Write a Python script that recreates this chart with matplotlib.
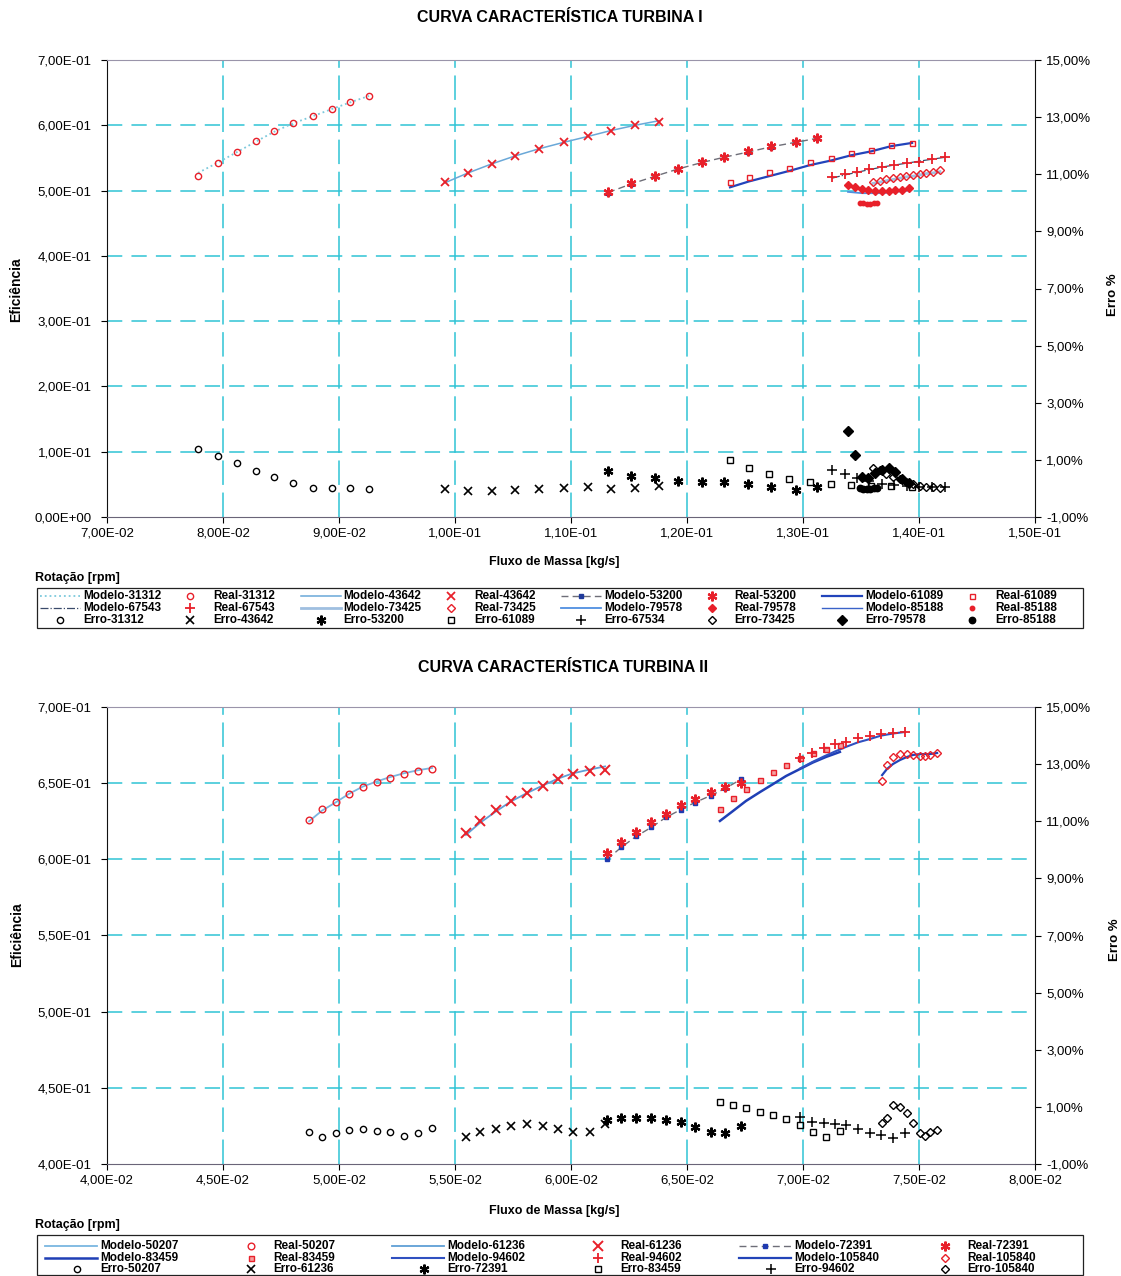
import matplotlib
matplotlib.use("Agg")
import matplotlib.pyplot as plt
from matplotlib import font_manager
from matplotlib.lines import Line2D
from matplotlib.patches import Rectangle
from matplotlib.ticker import FixedLocator, FuncFormatter

# ---------------- Turbina I ----------------
q31312 = [0.07784, 0.07957, 0.08121, 0.08284, 0.08440, 0.08603, 0.08776, 0.08940, 0.09095, 0.09259]
mod31312 = [0.527, 0.543, 0.559, 0.575, 0.590, 0.603, 0.614, 0.625, 0.635, 0.645]
real31312 = [0.522, 0.542, 0.559, 0.576, 0.591, 0.603, 0.614, 0.625, 0.636, 0.645]
err31312 = [1.381, 1.136, 0.891, 0.611, 0.400, 0.190, 0.015, 0.015, 0.015, -0.020]

q43642 = [0.09914, 0.10112, 0.10319, 0.10517, 0.10724, 0.10940, 0.11147, 0.11345, 0.11552, 0.11759]
mod43642 = [0.512, 0.527, 0.541, 0.553, 0.564, 0.574, 0.583, 0.592, 0.600, 0.607]
real43642 = [0.513, 0.527, 0.541, 0.553, 0.564, 0.574, 0.583, 0.591, 0.600, 0.605]
err43642 = [-0.020, -0.090, -0.090, -0.055, -0.020, 0.015, 0.050, -0.020, 0.015, 0.085]

q53200 = [0.11319, 0.11517, 0.11724, 0.11922, 0.12129, 0.12319, 0.12526, 0.12724, 0.12940, 0.13121]
mod53200 = [0.497, 0.510, 0.522, 0.533, 0.543, 0.551, 0.559, 0.567, 0.574, 0.580]
real53200 = [0.498, 0.511, 0.522, 0.533, 0.544, 0.551, 0.560, 0.568, 0.574, 0.580]
err53200 = [0.611, 0.435, 0.365, 0.260, 0.225, 0.225, 0.155, 0.050, -0.055, 0.050]

q61089 = [0.12371, 0.12534, 0.12707, 0.12879, 0.13060, 0.13241, 0.13414, 0.13586, 0.13759, 0.13940]
mod61089 = [0.505, 0.514, 0.522, 0.530, 0.539, 0.546, 0.554, 0.560, 0.568, 0.573]
real61089 = [0.513, 0.521, 0.528, 0.534, 0.544, 0.550, 0.557, 0.562, 0.570, 0.573]
err61089 = [0.996, 0.716, 0.505, 0.330, 0.225, 0.155, 0.120, 0.085, 0.085, 0.050]

q67543 = [0.13250, 0.13362, 0.13466, 0.13569, 0.13681, 0.13784, 0.13897, 0.14000, 0.14112, 0.14224]
mod67543 = [0.519, 0.524, 0.528, 0.532, 0.536, 0.539, 0.542, 0.545, 0.548, 0.551]
real67543 = [0.521, 0.525, 0.528, 0.533, 0.536, 0.539, 0.542, 0.544, 0.548, 0.551]
err67534 = [0.645, 0.505, 0.365, 0.260, 0.155, 0.120, 0.085, 0.050, 0.050, 0.050]

q73425 = [0.13603, 0.13664, 0.13716, 0.13776, 0.13836, 0.13888, 0.13948, 0.14009, 0.14060, 0.14121, 0.14181]
mod73425 = [0.511, 0.513, 0.515, 0.517, 0.519, 0.521, 0.522, 0.524, 0.526, 0.527, 0.529]
real73425 = [0.513, 0.515, 0.517, 0.519, 0.521, 0.522, 0.524, 0.525, 0.527, 0.528, 0.531]
err73425 = [0.715, 0.645, 0.505, 0.400, 0.330, 0.225, 0.155, 0.085, 0.050, 0.050, 0.015]

q79578 = [0.13388, 0.13448, 0.13509, 0.13560, 0.13621, 0.13681, 0.13741, 0.13793, 0.13853, 0.13914]
mod79578 = [0.498, 0.497, 0.496, 0.496, 0.496, 0.496, 0.497, 0.498, 0.499, 0.500]
real79578 = [0.508, 0.505, 0.502, 0.501, 0.499, 0.499, 0.499, 0.501, 0.501, 0.504]
err79578 = [2.011, 1.171, 0.400, 0.365, 0.540, 0.645, 0.716, 0.575, 0.330, 0.190]

q85188 = [0.13491, 0.13517, 0.13552, 0.13578, 0.13612, 0.13638]
mod85188 = [0.480, 0.480, 0.479, 0.479, 0.480, 0.480]
real85188 = [0.481, 0.481, 0.479, 0.479, 0.481, 0.481]
err85188 = [0.015, -0.020, -0.020, -0.020, 0.015, 0.015]

# ---------------- Turbina II ----------------
q50207 = [0.04871, 0.04927, 0.04987, 0.05043, 0.05103, 0.05164, 0.05220, 0.05280, 0.05341, 0.05401]
mod50207 = [0.6250, 0.6320, 0.6375, 0.6430, 0.6478, 0.6512, 0.6540, 0.6565, 0.6585, 0.6600]
real50207 = [0.6258, 0.6330, 0.6376, 0.6429, 0.6475, 0.6508, 0.6534, 0.6560, 0.6580, 0.6593]
err50207 = [0.120, -0.055, 0.085, 0.190, 0.225, 0.155, 0.120, -0.020, 0.085, 0.260]

q61236 = [0.05547, 0.05608, 0.05677, 0.05741, 0.05810, 0.05879, 0.05944, 0.06009, 0.06082, 0.06147]
mod61236 = [0.6160, 0.6240, 0.6315, 0.6380, 0.6435, 0.6485, 0.6530, 0.6565, 0.6590, 0.6610]
real61236 = [0.6173, 0.6252, 0.6324, 0.6383, 0.6435, 0.6481, 0.6527, 0.6560, 0.6580, 0.6586]
err61236 = [-0.055, 0.120, 0.225, 0.330, 0.400, 0.330, 0.225, 0.120, 0.120, 0.400]

q72391 = [0.06155, 0.06216, 0.06280, 0.06345, 0.06409, 0.06474, 0.06534, 0.06603, 0.06664, 0.06733]
mod72391 = [0.5999, 0.6078, 0.6150, 0.6209, 0.6275, 0.6327, 0.6373, 0.6419, 0.6465, 0.6525]
real72391 = [0.6042, 0.6114, 0.6180, 0.6245, 0.6298, 0.6357, 0.6396, 0.6442, 0.6475, 0.6501]
err72391 = [0.540, 0.610, 0.610, 0.610, 0.540, 0.470, 0.295, 0.120, 0.085, 0.330]

q83459 = [0.06642, 0.06698, 0.06754, 0.06815, 0.06871, 0.06927, 0.06987, 0.07043, 0.07099, 0.07159]
mod83459 = [0.6252, 0.6317, 0.6383, 0.6442, 0.6494, 0.6547, 0.6593, 0.6636, 0.6672, 0.6705]
real83459 = [0.6330, 0.6403, 0.6462, 0.6521, 0.6573, 0.6619, 0.6665, 0.6698, 0.6724, 0.6751]
err83459 = [1.170, 1.066, 0.960, 0.820, 0.715, 0.575, 0.365, 0.120, -0.055, 0.155]

q94602 = [0.06987, 0.07039, 0.07091, 0.07138, 0.07185, 0.07237, 0.07289, 0.07336, 0.07388, 0.07440]
mod94602 = [0.6596, 0.6638, 0.6676, 0.6708, 0.6738, 0.6768, 0.6790, 0.6812, 0.6826, 0.6836]
real94602 = [0.6665, 0.6698, 0.6731, 0.6757, 0.6770, 0.6796, 0.6809, 0.6822, 0.6829, 0.6836]
err94602 = [0.645, 0.470, 0.435, 0.400, 0.365, 0.225, 0.085, 0.015, -0.090, 0.085]

q105840 = [0.07341, 0.07362, 0.07388, 0.07418, 0.07448, 0.07474, 0.07504, 0.07526, 0.07547, 0.07578]
mod105840 = [0.6553, 0.6593, 0.6626, 0.6652, 0.6672, 0.6685, 0.6691, 0.6691, 0.6691, 0.6698]
real105840 = [0.6514, 0.6619, 0.6672, 0.6691, 0.6691, 0.6685, 0.6678, 0.6678, 0.6685, 0.6698]
err105840 = [0.435, 0.610, 1.066, 0.996, 0.786, 0.435, 0.085, -0.020, 0.120, 0.190]

# ---------------- fontes ----------------
nomes = {f.name for f in font_manager.fontManager.ttflist}
FONTE = "Liberation Sans" if "Liberation Sans" in nomes else "DejaVu Sans"
plt.rcParams["font.family"] = [FONTE, "DejaVu Sans"]

W, H = 1121, 1276
GRID = "#2fc3d5"
STAR = (6, 2, 0)  # asterisco de 6 pontas (x com barra vertical)


def px(x, y):
    return x / W, 1 - y / H


def fmt_e(v, pos=None):
    return f"{v:.2E}".replace(".", ",")


def fmt_pct(v, pos=None):
    return f"{v:.2f}%".replace(".", ",")


def eixos(fig, top, bottom, xticks, yticks):
    ax = fig.add_axes([107 / W, 1 - bottom / H, 928 / W, (bottom - top) / H])
    ax.set_xlim(xticks[0], xticks[-1])
    ax.set_ylim(yticks[0], yticks[-1])
    ax.xaxis.set_major_locator(FixedLocator(xticks))
    ax.yaxis.set_major_locator(FixedLocator(yticks))
    ax.xaxis.set_major_formatter(FuncFormatter(fmt_e))
    ax.yaxis.set_major_formatter(FuncFormatter(fmt_e))
    ax.tick_params(labelsize=9.5, length=4, width=0.8)
    ax.tick_params(axis="y", pad=7)
    for xv in xticks[1:-1]:
        ax.axvline(xv, color=GRID, lw=1.1, dashes=(16, 5), zorder=0)
    for yv in yticks[1:-1]:
        ax.axhline(yv, color=GRID, lw=1.1, dashes=(10, 6), zorder=0)
    ax.spines["left"].set_color("#111111")
    ax.spines["bottom"].set_color("#6a6478")
    ax.spines["top"].set_color("#9a94aa")
    ax.spines["top"].set_linewidth(0.8)
    ax.spines["right"].set_visible(False)

    ax2 = ax.twinx()
    ax2.set_ylim(-1, 15)
    ax2.yaxis.set_major_locator(FixedLocator([-1, 1, 3, 5, 7, 9, 11, 13, 15]))
    ax2.yaxis.set_major_formatter(FuncFormatter(fmt_pct))
    ax2.tick_params(labelsize=9.5, length=4, width=0.8, pad=4)
    ax2.spines["right"].set_color("#111111")
    for s in ("left", "top", "bottom"):
        ax2.spines[s].set_visible(False)
    return ax, ax2


def modelo(ax, q, y, label, **kw):
    return ax.plot(q, y, label=label, zorder=2, **kw)[0]


def real(ax, q, y, label, **kw):
    kw.setdefault("color", "#e8202a")
    return ax.plot(q, y, ls="none", label=label, zorder=3, **kw)[0]


def erro(ax, q, y, label, **kw):
    kw.setdefault("color", "black")
    return ax.plot(q, y, ls="none", label=label, zorder=3, **kw)[0]


def copia(fig, h, xs, ys, sem_linha=False, sem_marca=False):
    ln = Line2D([0], [0])
    ln.update_from(h)
    if sem_linha:
        ln.set_linestyle("None")
    if sem_marca:
        ln.set_marker("None")
    ln.set_data([x / W for x in xs], [1 - y / H for y in ys])
    ln.set_transform(fig.transFigure)
    ln.set_clip_path(None)
    ln.set_clip_on(False)
    fig.add_artist(ln)


def legenda(fig, linhas, top, x_txt0, passo, linhas_y, largura_linha):
    # caixa com colunas de largura fixa, como a legenda do Excel
    x0, y0 = px(37, top + 40)
    fig.add_artist(Rectangle((x0, y0), 1046 / W, 40 / H, transform=fig.transFigure,
                             fill=False, edgecolor="#222222", lw=0.9))
    fig.text(*px(35, top - 4), "Rotação [rpm]", fontsize=9, fontweight="bold",
             va="bottom", ha="left")
    for r, linha in enumerate(linhas):
        yy = linhas_y[r]
        for c, h in enumerate(linha):
            xt = x_txt0 + passo * c
            tem_linha = h.get_linestyle() not in ("None", "none", "", " ")
            tem_marca = h.get_marker() not in (None, "None", "none", "", " ")
            if tem_linha:
                copia(fig, h, [xt - 3 - largura_linha, xt - 3], [yy, yy], sem_marca=True)
            if tem_marca:
                cx = xt - 3 - largura_linha / 2 if tem_linha else xt - 23
                copia(fig, h, [cx], [yy], sem_linha=True)
            fig.text(xt / W, 1 - yy / H, h.get_label(), fontsize=8.5, fontweight="bold",
                     va="center", ha="left")


fig = plt.figure(figsize=(W / 100, H / 100), dpi=100)

# ======== Turbina I ========
ax, ax2 = eixos(fig, 60, 517,
                [0.07, 0.08, 0.09, 0.10, 0.11, 0.12, 0.13, 0.14, 0.15],
                [0.0, 0.1, 0.2, 0.3, 0.4, 0.5, 0.6, 0.7])

m1 = modelo(ax, q31312, mod31312, "Modelo-31312", color="#7cc9dc", lw=1.3, ls=":")
m2 = modelo(ax, q43642, mod43642, "Modelo-43642", color="#6aa8d8", lw=1.1)
m3 = modelo(ax, q53200, mod53200, "Modelo-53200", color="#6e6e78", lw=1.0, dashes=(5, 3),
            marker="s", ms=3, mfc="#1f3a9a", mec="#1f3a9a")
m4 = modelo(ax, q61089, mod61089, "Modelo-61089", color="#2244bb", lw=1.6)
m5 = modelo(ax, q67543, mod67543, "Modelo-67543", color="#3a4a6a", lw=0.9, ls="-.")
m6 = modelo(ax, q73425, mod73425, "Modelo-73425", color="#9fbfe0", lw=2.0)
m7 = modelo(ax, q79578, mod79578, "Modelo-79578", color="#4f8fe0", lw=1.3)
m8 = modelo(ax, q85188, mod85188, "Modelo-85188", color="#3a62c8", lw=1.0)

r1 = real(ax, q31312, real31312, "Real-31312", marker="o", ms=4.5, mfc="none", mew=1.0)
r2 = real(ax, q43642, real43642, "Real-43642", marker="x", ms=6, mew=1.3)
r3 = real(ax, q53200, real53200, "Real-53200", marker=STAR, ms=7, mew=1.6)
r4 = real(ax, q61089, real61089, "Real-61089", marker="s", ms=3.6, mfc="none", mew=1.0)
r5 = real(ax, q67543, real67543, "Real-67543", marker="+", ms=7, mew=1.3)
r6 = real(ax, q73425, real73425, "Real-73425", marker="D", ms=4.2, mfc="none", mew=1.0)
r7 = real(ax, q79578, real79578, "Real-79578", marker="D", ms=4.2)
r8 = real(ax, q85188, real85188, "Real-85188", marker="o", ms=3.2)

e1 = erro(ax2, q31312, err31312, "Erro-31312", marker="o", ms=4.5, mfc="none", mew=1.0)
e2 = erro(ax2, q43642, err43642, "Erro-43642", marker="x", ms=5.5, mew=1.2)
e3 = erro(ax2, q53200, err53200, "Erro-53200", marker=STAR, ms=7, mew=1.6)
e4 = erro(ax2, q61089, err61089, "Erro-61089", marker="s", ms=4.5, mfc="none", mew=1.0)
e5 = erro(ax2, q67543, err67534, "Erro-67534", marker="+", ms=6.5, mew=1.1)
e6 = erro(ax2, q73425, err73425, "Erro-73425", marker="D", ms=4.2, mfc="none", mew=1.0)
e7 = erro(ax2, q79578, err79578, "Erro-79578", marker="D", ms=4.6)
e8 = erro(ax2, q85188, err85188, "Erro-85188", marker="o", ms=4.6)

fig.text(*px(560, 18), "CURVA CARACTERÍSTICA TURBINA I", fontsize=11.5, fontweight="bold",
         ha="center", va="center")
fig.text(*px(554, 562), "Fluxo de Massa [kg/s]", fontsize=9, fontweight="bold",
         ha="center", va="center")
fig.text(*px(16, 290), "Eficiência", fontsize=10, fontweight="bold", rotation=90,
         ha="center", va="center")
fig.text(*px(1113, 295), "Erro %", fontsize=9.5, fontweight="bold", rotation=90,
         ha="center", va="center")

legenda(fig, [[m1, r1, m2, r2, m3, r3, m4, r4],
              [m5, r5, m6, r6, m7, r7, m8, r8],
              [e1, e2, e3, e4, e5, e6, e7, e8]],
        588, 83, 130.3, [596, 608, 620], 40)

# ======== Turbina II ========
bx, bx2 = eixos(fig, 707, 1164,
                [0.040, 0.045, 0.050, 0.055, 0.060, 0.065, 0.070, 0.075, 0.080],
                [0.40, 0.45, 0.50, 0.55, 0.60, 0.65, 0.70])

n1 = modelo(bx, q50207, mod50207, "Modelo-50207", color="#7ab6e0", lw=1.3)
n2 = modelo(bx, q61236, mod61236, "Modelo-61236", color="#5f9fd6", lw=1.3)
n3 = modelo(bx, q72391, mod72391, "Modelo-72391", color="#6e6e78", lw=1.0, dashes=(5, 3),
            marker="s", ms=3.5, mfc="#1f3ab0", mec="#1f3ab0")
n4 = modelo(bx, q83459, mod83459, "Modelo-83459", color="#1f3fb5", lw=1.8)
n5 = modelo(bx, q94602, mod94602, "Modelo-94602", color="#2f50c0", lw=1.5)
n6 = modelo(bx, q105840, mod105840, "Modelo-105840", color="#2244b8", lw=1.6)

s1 = real(bx, q50207, real50207, "Real-50207", marker="o", ms=4.8, mfc="none", mew=1.0)
s2 = real(bx, q61236, real61236, "Real-61236", marker="x", ms=6.5, mew=1.4)
s3 = real(bx, q72391, real72391, "Real-72391", marker=STAR, ms=7, mew=1.6)
s4 = real(bx, q83459, real83459, "Real-83459", marker="s", ms=3.6, mfc="#f4a0a0", mew=1.0)
s5 = real(bx, q94602, real94602, "Real-94602", marker="+", ms=7, mew=1.3)
s6 = real(bx, q105840, real105840, "Real-105840", marker="D", ms=4.4, mfc="none", mew=1.0)

f1 = erro(bx2, q50207, err50207, "Erro-50207", marker="o", ms=4.5, mfc="none", mew=1.0)
f2 = erro(bx2, q61236, err61236, "Erro-61236", marker="x", ms=5.5, mew=1.2)
f3 = erro(bx2, q72391, err72391, "Erro-72391", marker=STAR, ms=7, mew=1.6)
f4 = erro(bx2, q83459, err83459, "Erro-83459", marker="s", ms=4.5, mfc="none", mew=1.0)
f5 = erro(bx2, q94602, err94602, "Erro-94602", marker="+", ms=6.5, mew=1.1)
f6 = erro(bx2, q105840, err105840, "Erro-105840", marker="D", ms=4.4, mfc="none", mew=1.0)

fig.text(*px(563, 667), "CURVA CARACTERÍSTICA TURBINA II", fontsize=11.5, fontweight="bold",
         ha="center", va="center")
fig.text(*px(554, 1211), "Fluxo de Massa [kg/s]", fontsize=9, fontweight="bold",
         ha="center", va="center")
fig.text(*px(17, 935), "Eficiência", fontsize=10, fontweight="bold", rotation=90,
         ha="center", va="center")
fig.text(*px(1115, 940), "Erro %", fontsize=9.5, fontweight="bold", rotation=90,
         ha="center", va="center")

legenda(fig, [[n1, s1, n2, s2, n3, s3],
              [n4, s4, n5, s5, n6, s6],
              [f1, f2, f3, f4, f5, f6]],
        1235, 100, 173.5, [1246, 1258, 1269], 52)

fig.savefig("out.png", dpi=100)
